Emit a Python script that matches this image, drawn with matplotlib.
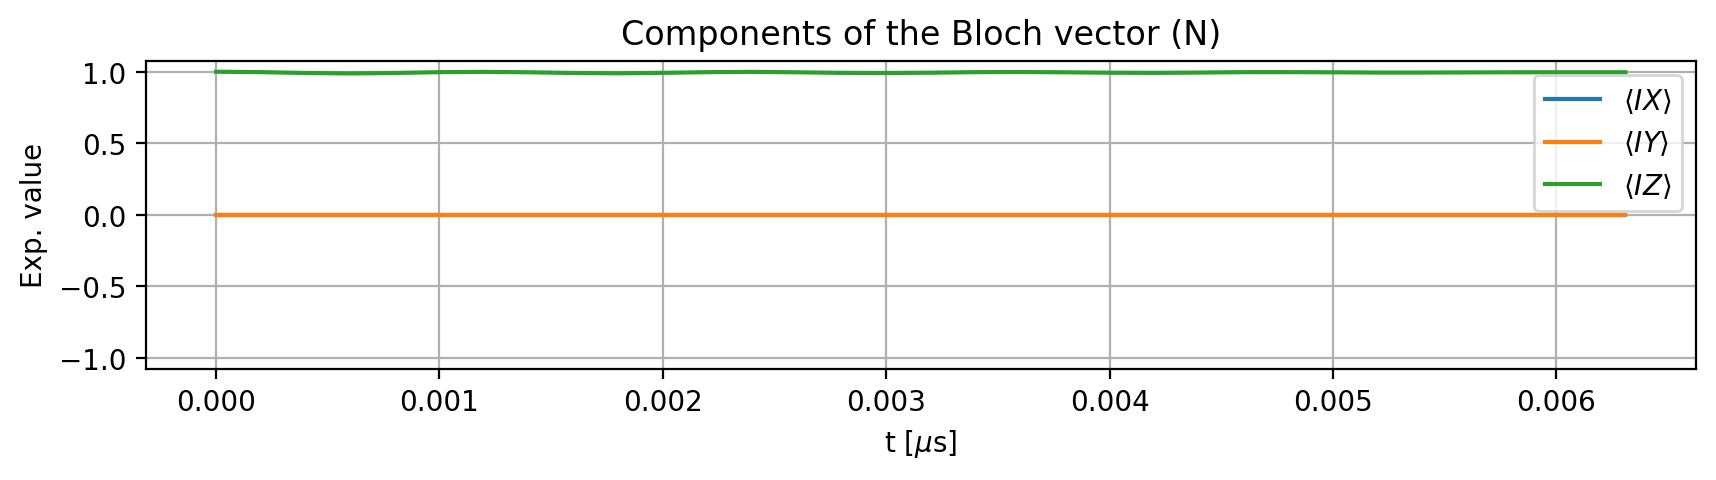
import matplotlib
matplotlib.use("Agg")
import matplotlib.pyplot as plt

t_us = [0.0, 0.0002, 0.0004, 0.0006, 0.0008, 0.0010, 0.0012, 0.0014, 0.0016, 0.0018,
        0.0020, 0.0022, 0.0024, 0.0026, 0.0028, 0.0030, 0.0032, 0.0034, 0.0036, 0.0038,
        0.0040, 0.0042, 0.0044, 0.0046, 0.0048, 0.0050, 0.0052, 0.0054, 0.0056, 0.0058,
        0.0060, 0.0062, 0.00631]
ix_vals = [0.0] * len(t_us)
iy_vals = [0.0] * len(t_us)
iz_vals = [1.000, 0.997, 0.991, 0.988, 0.991, 0.997, 0.999, 0.996, 0.991, 0.989,
           0.992, 0.997, 0.999, 0.996, 0.992, 0.991, 0.993, 0.997, 0.998, 0.996,
           0.993, 0.992, 0.994, 0.997, 0.997, 0.996, 0.994, 0.994, 0.995, 0.996,
           0.996, 0.996, 0.996]
labels = [r"$\langle IX\rangle$", r"$\langle IY\rangle$", r"$\langle IZ\rangle$"]

fig = plt.figure(figsize=(8.58, 2.405), dpi=200)
ax = fig.add_axes([0.0849, 0.2314, 0.9883 - 0.0849, 0.8717 - 0.2314])
ax.plot(t_us, ix_vals, label=labels[0])
ax.plot(t_us, iy_vals, label=labels[1])
ax.plot(t_us, iz_vals, label=labels[2])
ax.set_ylim(-1.077, 1.077)
ax.set_title("Components of the Bloch vector (N)")
ax.set_xlabel(r"t [$\mu$s]")
ax.set_ylabel("Exp. value")
ax.grid(True)
ax.legend(loc="upper right")
fig.savefig("out.png", dpi=200)
